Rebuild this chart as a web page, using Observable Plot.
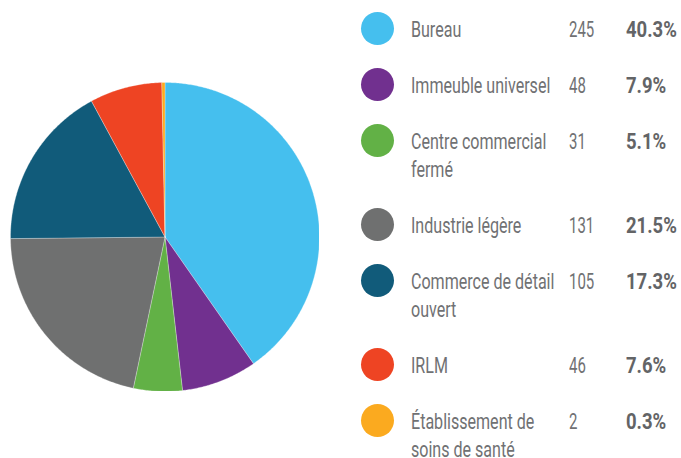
<!DOCTYPE html>
<html><head><meta charset="utf-8">
<script src="https://cdn.jsdelivr.net/npm/d3@7"></script>
<script src="https://cdn.jsdelivr.net/npm/@observablehq/plot@0.6"></script>
<style>
html,body{margin:0;padding:0;background:#fff;}
#wrap{position:relative;width:681px;height:458px;overflow:hidden;
  font-family:Roboto,"Noto Sans",sans-serif;color:#707173;font-size:22px;}
#pie{position:absolute;left:10px;top:82px;}
#legend{position:absolute;left:361px;top:11.7px;width:320px;}
.row{position:relative;padding-top:4.4px;margin-bottom:23.6px;}
.dot{position:absolute;left:0;top:0;width:33.4px;height:33.4px;border-radius:50%;}
.lab{margin-left:50px;width:205px;line-height:28px;transform:scaleX(0.73);transform-origin:0 0;white-space:normal;}
.num{position:absolute;left:208px;top:4.4px;line-height:28px;transform:scaleX(0.68);transform-origin:0 0;}
.pct{position:absolute;left:265px;top:4.4px;line-height:28px;font-weight:bold;color:#636466;transform:scaleX(0.84);transform-origin:0 0;}
</style>
</head><body>
<div id="wrap"><div id="pie"></div><div id="legend"></div></div>
<script>
const categories = ["Bureau","Immeuble universel","Centre commercial fermé","Industrie légère","Commerce de détail ouvert","IRLM","Établissement de soins de santé"];
const counts = [245, 48, 31, 131, 105, 46, 2];
const percents = ["40.3%","7.9%","5.1%","21.5%","17.3%","7.6%","0.3%"];
const colors = ["#45bfee","#71308f","#62b146","#6f7070","#115b7a","#ee4423","#fbaa1f"];

const total = d3.sum(counts);
const pts = [];
let acc = 0;
categories.forEach((c, i) => {
  const a0 = acc / total * 2 * Math.PI;
  acc += counts[i];
  const a1 = acc / total * 2 * Math.PI;
  const n = Math.max(2, Math.ceil((a1 - a0) / (Math.PI / 360)));
  pts.push({cat: c, x: 0, y: 0});
  for (let k = 0; k <= n; k++) {
    const a = a0 + (a1 - a0) * k / n;
    pts.push({cat: c, x: Math.sin(a), y: Math.cos(a)});
  }
  pts.push({cat: c, x: 0, y: 0});
});

const R = 154.5;
const chart = Plot.plot({
  width: 2 * R, height: 2 * R,
  margin: 0,
  x: {domain: [-1, 1], axis: null},
  y: {domain: [-1, 1], axis: null},
  color: {domain: categories, range: colors},
  marks: [
    Plot.line(pts, {x: "x", y: "y", z: "cat", fill: "cat", stroke: "white", strokeWidth: 0.4, strokeOpacity: 0.7, curve: "linear-closed"})
  ]
});
document.getElementById("pie").appendChild(chart);

const leg = d3.select("#legend");
categories.forEach((c, i) => {
  const r = leg.append("div").attr("class", "row");
  r.append("div").attr("class", "dot").style("background", colors[i]);
  r.append("div").attr("class", "lab").text(c);
  r.append("div").attr("class", "num").text(counts[i]);
  r.append("div").attr("class", "pct").text(percents[i]);
});
</script>
</body></html>
